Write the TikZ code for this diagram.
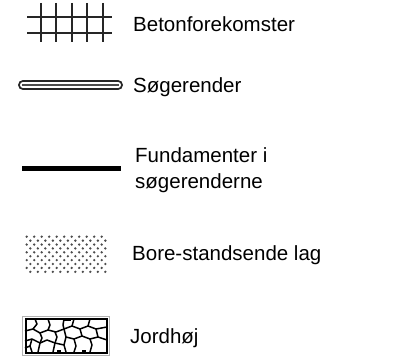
\documentclass[tikz,border=0pt]{standalone}
\usepackage{fontspec}
\setmainfont{Liberation Sans}
\usepackage{tikz}
\usetikzlibrary{calc}

\begin{document}
\begin{tikzpicture}[x=1pt, y=-1pt,
	lbl/.style={anchor=base west, inner sep=0pt, font=\fontsize{20.5}{26}\selectfont},
	gridline/.style={line width=1.9pt, black!85},
	stone/.style={line width=1.5pt, line join=round}]
\useasboundingbox (0,0) rectangle (398,361);

% Betonforekomster
\foreach \y in {17,33}
	\draw[gridline] (27,\y) -- (112,\y);
\foreach \x in {41,56,72,87,103}
	\draw[gridline] (\x,3) -- (\x,42);
\node[lbl] (beton) at (133,32) {Betonforekomster};

% Soegerender
\draw[line width=10pt, line cap=round, black!85] (23,85) -- (118,85);
\draw[line width=6pt, line cap=round, white] (23,85) -- (118,85);
\draw[line width=2.2pt, black!70] (22,85) -- (119,85);
\node[lbl] (soge) at (133,92) {Søgerender};

% Fundamenter
\draw[line width=5pt] (22,168) -- (121,168);
\node[lbl, align=left] (fund) at (135,188) {Fundamenter i\\søgerenderne};

% Bore-standsende lag
\foreach \r in {0,...,9} {
	\pgfmathsetmacro\xo{26.7+3.65*mod(\r,2)}
	\foreach \c in {0,...,10}
		\fill[black!70] (\xo+7.5*\c, 236.7+3.9*\r) circle[radius=1.3pt];
}
\node[lbl] (bore) at (132,260) {Bore-standsende lag};

% Jordhoej
\draw[black!30, line width=1pt] (22.5,316.5) rectangle (109,355);
\draw[line width=2pt] (25.5,318.7) rectangle (106.8,352.5);
\begin{scope}[stone]
\draw (25,331) -- (33,329) -- (40,333) -- (48,330) -- (56,332) -- (64,329);
\draw (35,319) -- (37,324) -- (33,329);
\draw (48,319) -- (50,325) -- (48,330);
\draw (64,319) -- (63,325) -- (64,329) -- (66,337) -- (64,345) -- (66,352);
\draw (25,341) -- (32,339) -- (40,343) -- (47,340) -- (55,343) -- (64,345);
\draw (40,333) -- (42,338) -- (40,343) -- (38,352);
\draw (55,332) -- (57,337) -- (55,343) -- (53,352);
\draw (64,329) -- (72,326) -- (80,329) -- (88,326) -- (96,329) -- (107,327);
\draw (74,319) -- (72,326);
\draw (90,319) -- (88,326);
\draw (66,337) -- (74,339) -- (82,336) -- (90,339) -- (98,337) -- (107,340);
\draw (80,329) -- (82,336);
\draw (96,329) -- (98,337);
\draw (74,339) -- (76,346) -- (74,352);
\draw (90,339) -- (92,345) -- (90,352);
\draw (32,339) -- (30,346) -- (25,348);
\draw (30,346) -- (32,352);
\end{scope}
\fill (63,318) rectangle (71,321);
\fill (57,350) rectangle (61,353);
\fill (82,350) rectangle (86,353);
\node[lbl] (jord) at (130,343) {Jordhøj};
\end{tikzpicture}
\end{document}
